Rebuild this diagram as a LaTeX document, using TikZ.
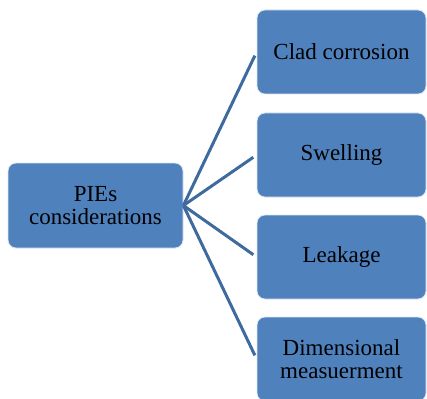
\documentclass[tikz,border=0pt]{standalone}
\usepackage{fontspec}
\setmainfont{Liberation Serif}
\usepackage{tikz}
\usetikzlibrary{positioning}
\definecolor{boxblue}{RGB}{79,129,189}
\definecolor{linkblue}{RGB}{62,106,158}
\tikzset{
  mainbox/.style={rectangle, rounded corners=8pt, fill=boxblue, draw=white!80!boxblue,
    line width=0.8pt, align=center, font=\fontsize{23}{23}\selectfont,
    minimum width=175pt, minimum height=85pt, inner sep=0pt},
  subbox/.style={mainbox, minimum width=169pt, minimum height=84pt},
  link/.style={draw=linkblue, line width=3pt, shorten >=4pt}
}

\begin{document}
\begin{tikzpicture}[x=1pt, y=-1pt]
  \useasboundingbox (0,0) rectangle (427,398);
  \clip (0,0) rectangle (427,398);

  % --- Root ---
  \node[mainbox] (pie) at (95.5,205.5) {PIEs\\considerations};

  % --- Branches ---
  \node[subbox] (clad) at (341.5,52) {Clad corrosion};
  \node[subbox] (swell) at (341.5,155) {Swelling};
  \node[subbox] (leak) at (341.5,257) {Leakage};
  \node[subbox] (dim) at (341.5,359) {Dimensional\\measuerment};

  \foreach \v in {clad, swell, leak, dim}
    \draw[link] (pie.east) -- (\v.west);
\end{tikzpicture}
\end{document}
